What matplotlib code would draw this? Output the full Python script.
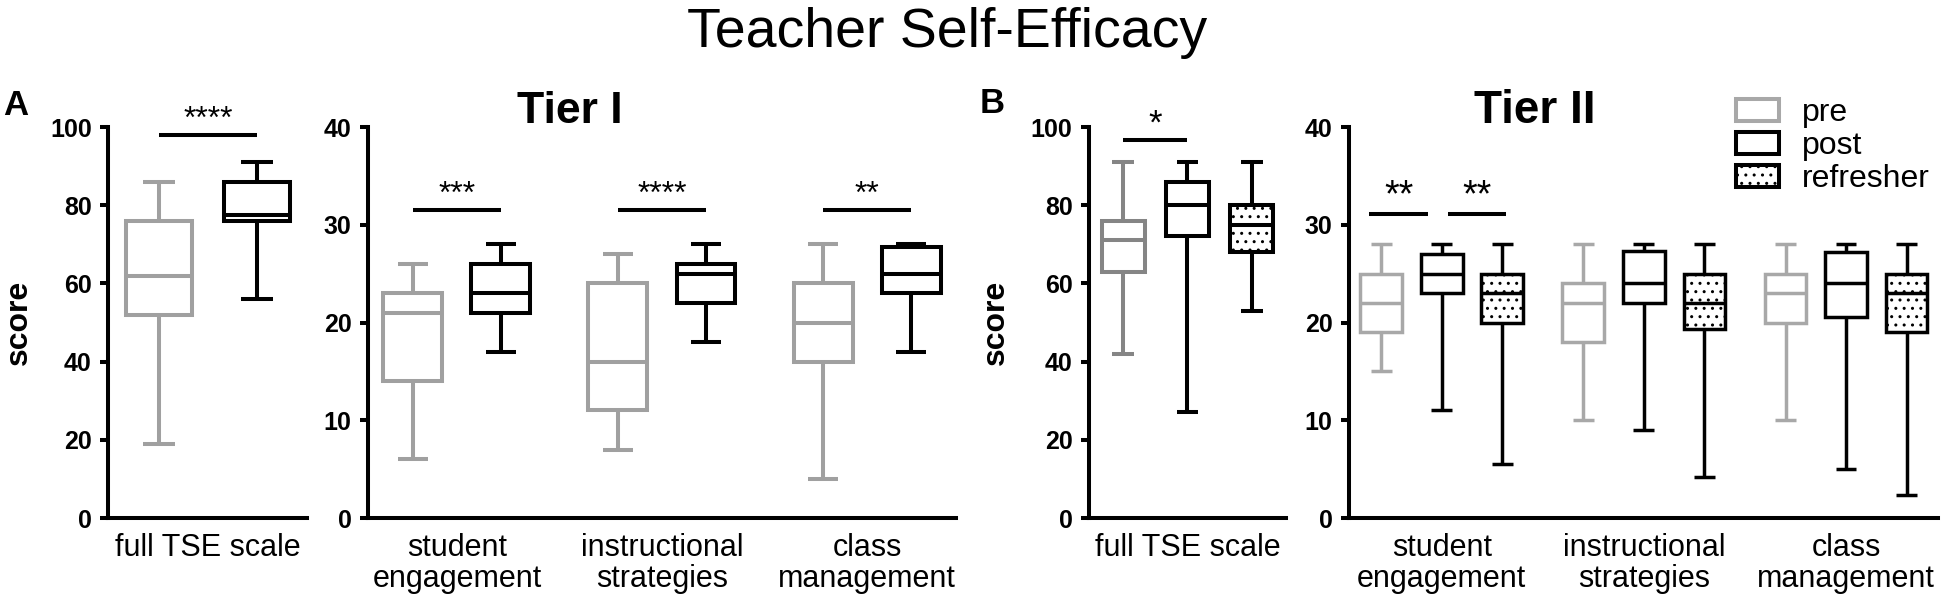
import matplotlib
matplotlib.use("Agg")
import matplotlib.pyplot as plt
from matplotlib.patches import Patch

plt.rcParams['font.family'] = ['Liberation Sans', 'DejaVu Sans']
plt.rcParams['hatch.linewidth'] = 1.0
plt.rcParams['hatch.color'] = 'black'

# ---------------- data (whisker low, Q1, median, Q3, whisker high) ----------------
full_label = 'full TSE scale'
tier_categories = ['student\nengagement', 'instructional\nstrategies', 'class\nmanagement']
series_names = ['pre', 'post', 'refresher']

A_full_pre = [19, 52, 62, 76, 86]
A_full_post = [56, 76, 77.5, 86, 91]

A_tier_pre = [[6, 14, 21, 23, 26],
              [7, 11, 16, 24, 27],
              [4, 16, 20, 24, 28]]
A_tier_post = [[17, 21, 23, 26, 28],
               [18, 22, 25, 26, 28],
               [17, 23, 25, 27.7, 28]]

B_full_pre = [42, 63, 71, 76, 91]
B_full_post = [27, 72, 80, 86, 91]
B_full_ref = [53, 68, 75, 80, 91]

B_tier_pre = [[15, 19, 22, 25, 28],
              [10, 18, 22, 24, 28],
              [10, 20, 23, 25, 28]]
B_tier_post = [[11, 23, 25, 27, 28],
               [9, 22, 24, 27.3, 28],
               [5, 20.6, 24, 27.2, 28]]
B_tier_ref = [[5.5, 20, 23, 25, 28],
              [4.2, 19.3, 22, 25, 28],
              [2.4, 19, 23, 25, 28]]

# significance annotations: (x_start, x_end, y, label)
A_full_sig = [(0, 1, 98, '****')]
A_tier_sig = [(0, 1, 31.5, '***'), (2.33, 3.33, 31.5, '****'), (4.66, 5.66, 31.5, '**')]
B_full_sig = [(0, 1, 96.6, '*')]
B_tier_sig = [(-0.2, 0.78, 31.1, '**'), (1.1, 2.07, 31.1, '**')]

# ---------------- styling ----------------
GRAY_A = '#a0a0a0'
GRAY_B = '#858585'
GRAY_B2 = '#a8a8a8'
BLACK = 'black'


def stats_of(v):
    return dict(whislo=v[0], q1=v[1], med=v[2], q3=v[3], whishi=v[4], fliers=[])


def draw(ax, data, positions, color, lw, hatch=None, width=0.67):
    st = [stats_of(v) for v in data]
    bp = ax.bxp(st, positions=positions, widths=width, patch_artist=True,
                showfliers=False, manage_ticks=False,
                boxprops=dict(facecolor='white', edgecolor=color, linewidth=lw,
                              hatch=hatch),
                medianprops=dict(color=color, linewidth=lw, solid_capstyle='butt'),
                whiskerprops=dict(color=color, linewidth=lw, solid_capstyle='butt'),
                capprops=dict(color=color, linewidth=lw, solid_capstyle='butt'))
    for b in bp['boxes']:
        b.set_joinstyle('miter')
    return bp


def style_axes(ax, ymax, lw):
    ax.spines['top'].set_visible(False)
    ax.spines['right'].set_visible(False)
    ax.spines['left'].set_linewidth(lw)
    ax.spines['bottom'].set_linewidth(lw)
    ax.set_ylim(0, ymax)
    ax.tick_params(axis='y', length=5.8, width=lw, pad=6, labelsize=18)
    ax.tick_params(axis='x', length=0, pad=11, labelsize=22)
    for t in ax.get_yticklabels():
        t.set_fontweight('bold')


def sig(ax, items, lw, fs):
    for x1, x2, y, lab in items:
        ax.plot([x1, x2], [y, y], color='black', lw=lw, clip_on=False,
                solid_capstyle='butt')
        ax.text((x1 + x2) / 2, y, lab, ha='center', va='bottom', fontsize=fs,
                clip_on=False)


fig = plt.figure(figsize=(19.47, 6.10), dpi=100)
bottom, height = 0.1508, 0.641

axA1 = fig.add_axes([0.0555, bottom, 0.1022, height])
axA2 = fig.add_axes([0.189, bottom, 0.302, height])
axB1 = fig.add_axes([0.5593, bottom, 0.1012, height])
axB2 = fig.add_axes([0.6929, bottom, 0.3025, height])

LW = 2.9
LW2 = 2.5

# Panel A full
draw(axA1, [A_full_pre], [0], GRAY_A, LW)
draw(axA1, [A_full_post], [1], BLACK, LW)
style_axes(axA1, 100, LW)
axA1.set_yticks([0, 20, 40, 60, 80, 100])
axA1.set_xlim(-0.52, 1.51)
axA1.set_xticks([0.5])
axA1.set_xticklabels([full_label])
axA1.set_ylabel('score', fontsize=23, fontweight='bold')
axA1.yaxis.set_label_coords(-0.375, 0.5)
sig(axA1, A_full_sig, LW, 23)

# Panel A tiers
gA = 2.33
posA_pre = [i * gA for i in range(3)]
posA_post = [i * gA + 1 for i in range(3)]
draw(axA2, A_tier_pre, posA_pre, GRAY_A, LW)
draw(axA2, A_tier_post, posA_post, BLACK, LW)
style_axes(axA2, 40, LW)
axA2.set_yticks([0, 10, 20, 30, 40])
axA2.set_xlim(-0.51, 6.17)
axA2.set_xticks([i * gA + 0.5 for i in range(3)])
axA2.set_xticklabels(tier_categories, linespacing=1.05)
sig(axA2, A_tier_sig, LW, 23)

# Panel B full
draw(axB1, [B_full_pre], [0], GRAY_B, LW)
draw(axB1, [B_full_post], [1], BLACK, LW)
draw(axB1, [B_full_ref], [2], BLACK, LW, hatch='..')
style_axes(axB1, 100, LW)
axB1.set_yticks([0, 20, 40, 60, 80, 100])
axB1.set_xlim(-0.53, 2.53)
axB1.set_xticks([1])
axB1.set_xticklabels([full_label])
axB1.set_ylabel('score', fontsize=23, fontweight='bold')
axB1.yaxis.set_label_coords(-0.395, 0.5)
sig(axB1, B_full_sig, LW, 25)

# Panel B tiers
gB = 3.34
draw(axB2, B_tier_pre, [i * gB for i in range(3)], GRAY_B2, LW2, width=0.69)
draw(axB2, B_tier_post, [i * gB + 1 for i in range(3)], BLACK, LW2, width=0.69)
draw(axB2, B_tier_ref, [i * gB + 2 for i in range(3)], BLACK, LW2, hatch='..', width=0.69)
style_axes(axB2, 40, LW)
axB2.set_yticks([0, 10, 20, 30, 40])
axB2.set_xlim(-0.53, 9.2)
axB2.set_xticks([i * gB + 1 for i in range(3)])
axB2.set_xticklabels(tier_categories, linespacing=1.05)
sig(axB2, B_tier_sig, LW, 27)

# Titles and panel letters
fig.text(947 / 1947, 1 - 47 / 610, 'Teacher Self-Efficacy', ha='center', va='baseline',
         fontsize=40)
fig.text(3 / 1947, 1 - 115 / 610, 'A', ha='left', va='baseline', fontsize=25,
         fontweight='bold')
fig.text(980 / 1947, 1 - 113 / 610, 'B', ha='left', va='baseline', fontsize=25,
         fontweight='bold')
fig.text(570 / 1947, 1 - 123 / 610, 'Tier I', ha='center', va='baseline', fontsize=32,
         fontweight='bold')
fig.text(1535 / 1947, 1 - 123 / 610, 'Tier II', ha='center', va='baseline', fontsize=33,
         fontweight='bold')

# Legend
handles = [Patch(facecolor='white', edgecolor=GRAY_B2, linewidth=LW),
           Patch(facecolor='white', edgecolor=BLACK, linewidth=LW),
           Patch(facecolor='white', edgecolor=BLACK, linewidth=LW, hatch='..')]
fig.legend(handles, series_names, loc='upper left',
           bbox_to_anchor=(1736 / 1947, 1 - 98 / 610), frameon=False, fontsize=23,
           handlelength=1.35, handleheight=0.7, handletextpad=0.72,
           labelspacing=0.1, borderpad=0, borderaxespad=0)

fig.savefig('out.png', dpi=100)
